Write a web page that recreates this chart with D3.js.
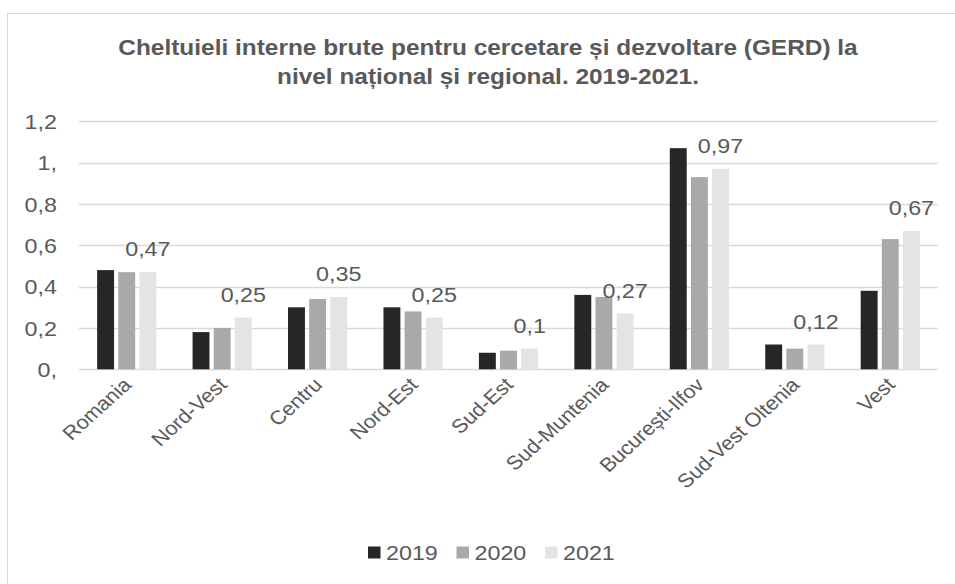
<!DOCTYPE html>
<html><head><meta charset="utf-8">
<script src="https://cdn.jsdelivr.net/npm/d3@7"></script>
<style>body{margin:0;background:#fff;}svg{display:block;font-family:Arial,"Liberation Sans",sans-serif;}</style>
</head><body>
<svg id="c" width="955" height="584"></svg>
<script>
const categories = ["Romania","Nord-Vest","Centru","Nord-Est","Sud-Est","Sud-Muntenia","București-Ilfov","Sud-Vest Oltenia","Vest"];
const years = ["2019","2020","2021"];
const v2019 = [0.48,0.18,0.30,0.30,0.08,0.36,1.07,0.12,0.38];
const v2020 = [0.47,0.20,0.34,0.28,0.09,0.35,0.93,0.10,0.63];
const v2021 = [0.47,0.25,0.35,0.25,0.10,0.27,0.97,0.12,0.67];
const yTicks = [0,0.2,0.4,0.6,0.8,1,1.2];
const yTickLabels = ["0,","0,2","0,4","0,6","0,8","1,","1,2"];
const colors = ["#262626","#a9a9a8","#e4e4e4"];
const title = ["Cheltuieli interne brute pentru cercetare și dezvoltare (GERD) la","nivel național și regional. 2019-2021."];

const series = [v2019, v2020, v2021];
const svg = d3.select("#c");
const txt = "#595959";
const SX = 1.11; // horizontal text stretch seen in the reference

svg.append("rect").attr("x",7.5).attr("y",13.5).attr("width",1000).attr("height",700)
  .attr("fill","#fff").attr("stroke","#d9d9d9");

const x0 = d3.scaleBand().domain(categories).range([79,938]).paddingInner(0.38).paddingOuter(0.19);
const x1 = d3.scaleBand().domain(years).range([0,x0.bandwidth()]).paddingInner(0.2);
const y = d3.scaleLinear().domain([0,1.2]).range([369.3,121.3]);

// title
svg.append("g").selectAll("text").data(title).join("text")
  .attr("transform",(d,i)=>`translate(488,${55+i*28.5}) scale(${SX},1)`)
  .attr("text-anchor","middle")
  .attr("font-size",22).attr("font-weight","bold").attr("fill",txt).text(d=>d);

// gridlines
svg.append("g").selectAll("line").data(yTicks).join("line")
  .attr("x1",79).attr("x2",938).attr("y1",d=>Math.round(y(d))+0.5).attr("y2",d=>Math.round(y(d))+0.5)
  .attr("stroke","#d9d9d9").attr("stroke-width",1.5);

// y axis labels
const yAxis = d3.axisLeft(y).tickValues(yTicks).tickSize(0).tickPadding(0)
  .tickFormat((d,i)=>yTickLabels[i]);
const yg = svg.append("g").attr("transform","translate(57,0)").call(yAxis);
yg.select(".domain").remove();
yg.selectAll("text").attr("font-size",21).attr("fill",txt)
  .attr("font-family","Arial,'Liberation Sans',sans-serif")
  .attr("x",0).attr("dy","0.35em").attr("transform",`scale(${SX},1)`);

// bars
const groups = svg.append("g").selectAll("g").data(categories).join("g")
  .attr("transform",d=>`translate(${x0(d)},0)`);
groups.selectAll("rect").data((c,i)=>years.map((yr,k)=>({yr,k,v:series[k][i]}))).join("rect")
  .attr("x",d=>x1(d.yr)).attr("width",x1.bandwidth())
  .attr("y",d=>y(d.v)).attr("height",d=>y(0)-y(d.v))
  .attr("fill",d=>colors[d.k]);

// data labels (2021)
svg.append("g").selectAll("text").data(categories).join("text")
  .attr("transform",(c,i)=>`translate(${x0(c)+x1("2021")+x1.bandwidth()/2},${y(v2021[i])-16}) scale(${SX},1)`)
  .attr("text-anchor","middle").attr("font-size",21).attr("fill",txt)
  .text((c,i)=>String(v2021[i]).replace(".",","));

// x axis labels
const xAxis = d3.axisBottom(x0).tickSize(0).tickPadding(0);
const xg = svg.append("g").attr("transform","translate(0,369)").call(xAxis);
xg.select(".domain").remove();
xg.selectAll("text")
  .attr("font-size",19.5).attr("fill",txt).attr("font-family","Arial,'Liberation Sans',sans-serif")
  .attr("text-anchor","end").attr("dy",0).attr("y",0)
  .attr("transform",`translate(6,17) scale(${SX},1) rotate(-45)`);

// legend
const lx = [368,456.5,545];
const lg = svg.append("g").selectAll("g").data(years).join("g")
  .attr("transform",(d,i)=>`translate(${lx[i]},0)`);
lg.append("rect").attr("x",0).attr("y",546.5).attr("width",12.5).attr("height",12).attr("fill",(d,i)=>colors[i]);
lg.append("text").attr("transform",`translate(18,560) scale(${SX},1)`)
  .attr("font-size",21).attr("fill",txt).text(d=>d);
</script>
</body></html>
